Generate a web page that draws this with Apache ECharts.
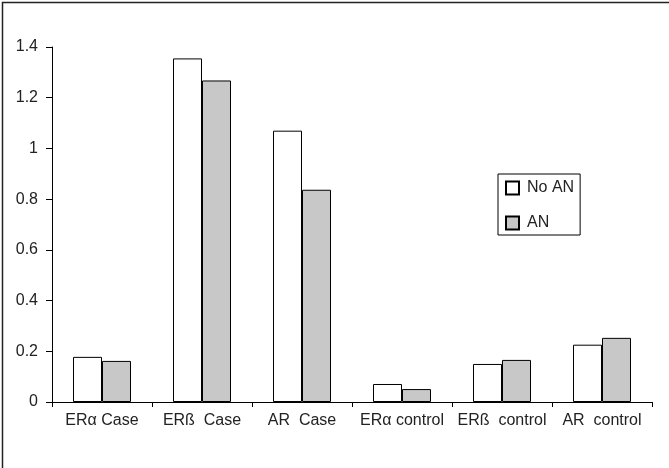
<!DOCTYPE html>
<html>
<head>
<meta charset="utf-8">
<script src="https://cdn.jsdelivr.net/npm/echarts@6/dist/echarts.min.js"></script>
<style>
html,body{margin:0;padding:0;background:#fff;}
#c{width:669px;height:468px;}
</style>
</head>
<body>
<div id="c"></div>
<script>
const categories = ["ERα Case", "ERß  Case", "AR  Case", "ERα control", "ERß  control", "AR  control"];
const seriesNames = ["No AN", "AN"];
const noAN = [0.178, 1.355, 1.070, 0.071, 0.150, 0.226];
const an = [0.162, 1.268, 0.837, 0.051, 0.166, 0.253];
const yTicks = [0, 0.2, 0.4, 0.6, 0.8, 1, 1.2, 1.4];

const font = "Liberation Sans, Arial, sans-serif";
const chart = echarts.init(document.getElementById('c'), null, {renderer: 'canvas'});
chart.setOption({
  animation: false,
  backgroundColor: '#fff',
  textStyle: {fontFamily: font},
  graphic: [{
    type: 'rect', left: 0, top: 0, z: 100, silent: true,
    shape: {x: 0.5, y: 0.5, width: 668, height: 467},
    style: {fill: 'none', stroke: '#222', lineWidth: 1.5}
  }],
  grid: {left: 52, right: 17, top: 47, bottom: 66, containLabel: false},
  legend: {
    orient: 'vertical',
    left: 498, top: 174,
    data: seriesNames,
    itemWidth: 13, itemHeight: 13,
    itemGap: 19,
    padding: [6, 6, 4, 7],
    borderColor: '#000', borderWidth: 1,
    icon: 'rect',
    textStyle: {fontSize: 16, lineHeight: 16, color: '#222', fontFamily: font, padding: [0, 0, 0, 3]}
  },
  xAxis: {
    type: 'category',
    data: categories,
    axisLine: {lineStyle: {color: '#000', width: 1}},
    axisTick: {show: true, length: 5, lineStyle: {color: '#000'}},
    axisLabel: {fontSize: 16, color: '#222', margin: 11, fontFamily: font, interval: 0}
  },
  yAxis: {
    type: 'value',
    min: 0, max: 1.4, interval: 0.2,
    axisLine: {show: true, lineStyle: {color: '#000', width: 1}},
    axisTick: {show: true, length: 6, lineStyle: {color: '#000'}},
    splitLine: {show: false},
    axisLabel: {fontSize: 16, color: '#222', margin: 14, fontFamily: font,
      formatter: function (v) { return String(Math.round(v * 10) / 10); }}
  },
  series: [
    {name: seriesNames[0], type: 'bar', data: noAN, barWidth: 29, barGap: '0%',
      itemStyle: {color: '#ffffff', borderColor: '#000', borderWidth: 1}},
    {name: seriesNames[1], type: 'bar', data: an, barWidth: 29, barGap: '0%',
      itemStyle: {color: '#c8c8c8', borderColor: '#000', borderWidth: 1}}
  ]
});
</script>
</body>
</html>
